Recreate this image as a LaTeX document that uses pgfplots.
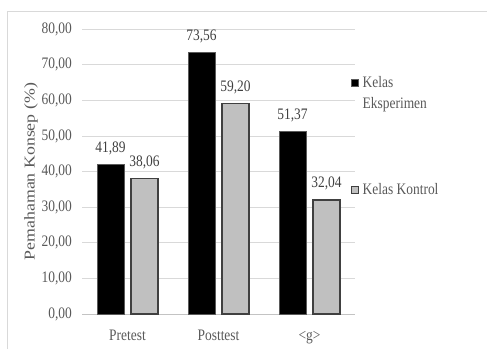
\documentclass[border=0pt]{standalone}
\usepackage{pgfplots}
\pgfplotsset{compat=1.18}
\usepackage{fontspec}
\setmainfont{Liberation Serif}[FakeStretch=0.84]
\newfontfamily\ylabfont{Liberation Serif}[FakeStretch=1.19]
\definecolor{tickgray}{HTML}{595959}
\definecolor{labgray}{HTML}{404040}
\definecolor{gridgray}{HTML}{D9D9D9}
\definecolor{barlight}{HTML}{C0C0C0}
\definecolor{edgedark}{HTML}{404040}
\definecolor{edgegray}{HTML}{5A5A5A}
\begin{document}
\begin{tikzpicture}[x=1bp,y=1bp]
\path[use as bounding box] (0,0) rectangle (487,349);
\draw[gridgray, line width=1bp] (7,0) -- (7,337) -- (487,337);
\begin{axis}[
  at={(82bp,35bp)}, anchor=south west,
  scale only axis, width=273bp, height=284.7bp,
  xmin=-0.5, xmax=2.5, ymin=0, ymax=80,
  ytick={0,10,...,80},
  xtick={0,1,2}, xticklabels={Pretest,Posttest,{<g>}},
  major tick length=0pt,
  axis x line*=bottom, axis y line*=left,
  y axis line style={draw=none},
  x axis line style={draw=gridgray!90!black, line width=1bp},
  ymajorgrids, grid style={gridgray, line width=1bp},
  /pgf/number format/fixed, /pgf/number format/fixed zerofill,
  /pgf/number format/precision=2, /pgf/number format/use comma,
  /pgf/number format/assume math mode=true,
  tick label style={font=\fontsize{16bp}{19bp}\selectfont, text=tickgray},
  yticklabel style={anchor=east, inner sep=0pt, xshift=-10bp},
  xticklabel style={anchor=north, inner sep=0pt, yshift=-16bp, text height=10.6bp, text depth=3bp},
  every axis y label/.style={at={(axis description cs:-0.1868,0.5)}, rotate=90, anchor=center, text=tickgray},
  ylabel={\ylabfont\fontsize{15bp}{18bp}\selectfont Pemahaman Konsep (\%)},
  ybar, bar width=27bp,
  nodes near coords,
  every node near coord/.append style={font=\fontsize{16bp}{19bp}\selectfont, text=labgray, anchor=base, inner sep=0pt, yshift=12bp},
  legend style={at={(rel axis cs:1,1)}, anchor=north west, xshift=-4.3bp, yshift=-43bp,
    draw=none, fill=none, inner sep=0pt, row sep=94.8bp, column sep=4bp,
    font=\fontsize{16bp}{21bp}\selectfont, text=tickgray,
    nodes={inner sep=0pt, anchor=base west, text=tickgray}},
  legend cell align=left,
  legend image code/.code={\draw[#1, line width=0.8bp] (0bp,1bp) rectangle (7bp,8bp);},
  clip=false,
]
\addplot[fill=black, draw=edgegray, line width=1bp, bar shift=-17bp] coordinates {(0,41.89) (1,73.56) (2,51.37)};
\addlegendentry{\begin{tabular}[t]{@{}l@{}}Kelas\\Eksperimen\end{tabular}}
\addplot[fill=barlight, draw=edgedark, line width=1.5bp, bar shift=17bp] coordinates {(0,38.06) (1,59.20) (2,32.04)};
\addlegendentry{Kelas Kontrol}
\end{axis}
\end{tikzpicture}
\end{document}
